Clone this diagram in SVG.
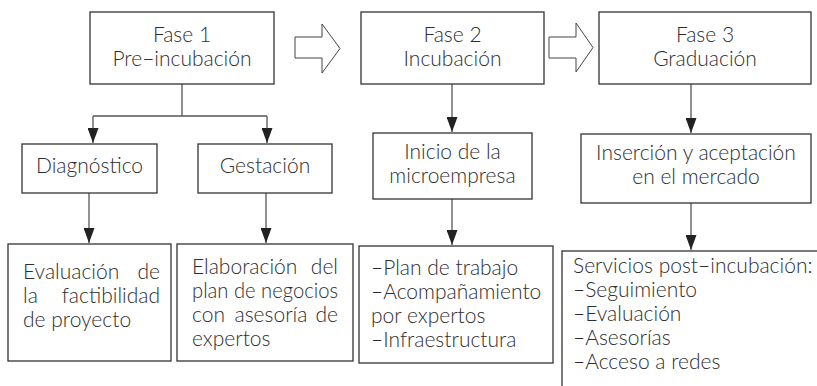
<svg xmlns="http://www.w3.org/2000/svg" width="817" height="386" viewBox="0 0 817 386">
<defs>
<style>
.box{fill:#fff;stroke:#333;stroke-width:1.3}
.con{fill:none;stroke:#555;stroke-width:1.3}
.big{fill:#fff;stroke:#444;stroke-width:1}
text{font-family:Lato,"Liberation Sans",sans-serif;font-weight:300;font-size:21px;fill:#2e2e2e}
.c{text-anchor:middle}
.e{text-anchor:end}
</style>
<marker id="ah" markerUnits="userSpaceOnUse" markerWidth="15" markerHeight="11" refX="15" refY="5.5" orient="auto">
<path d="M0,0 L15,5.5 L0,11 z" fill="#222"/>
</marker>
</defs>
<rect width="817" height="386" fill="#fff"/>
<g id="connectors">
<path class="con" d="M182,84 V116 M93,116 H267"/>
<path class="con" d="M93,116 V143" marker-end="url(#ah)"/>
<path class="con" d="M267,116 V143" marker-end="url(#ah)"/>
<path class="con" d="M89,193 V243" marker-end="url(#ah)"/>
<path class="con" d="M266,193 V243" marker-end="url(#ah)"/>
<path class="con" d="M452,84 V132" marker-end="url(#ah)"/>
<path class="con" d="M452,199 V245" marker-end="url(#ah)"/>
<path class="con" d="M691,84 V133" marker-end="url(#ah)"/>
<path class="con" d="M691,203 V250" marker-end="url(#ah)"/>
<polygon class="big" points="295,37 322,37 322,24 340,48.5 322,73 322,58 295,58"/>
<polygon class="big" points="549,37 576,37 576,23 593,47.5 576,72 576,58 549,58"/>
</g>
<g id="fase1">
<rect class="box" x="90" y="12" width="184" height="72"/>
<text class="c" x="182" y="42">Fase 1</text>
<text class="c" x="182" y="66">Pre–incubación</text>
</g>
<g id="fase2">
<rect class="box" x="361" y="12" width="183" height="72"/>
<text class="c" x="452.5" y="42">Fase 2</text>
<text class="c" x="452.5" y="66">Incubación</text>
</g>
<g id="fase3">
<rect class="box" x="599" y="12" width="212" height="72"/>
<text class="c" x="705" y="42">Fase 3</text>
<text class="c" x="705" y="66">Graduación</text>
</g>
<g id="diagnostico">
<rect class="box" x="22" y="144" width="135" height="49"/>
<text class="c" x="89.5" y="173">Diagnóstico</text>
</g>
<g id="gestacion">
<rect class="box" x="198" y="144" width="134" height="49"/>
<text class="c" x="265" y="173">Gestación</text>
</g>
<g id="inicio">
<rect class="box" x="373" y="133" width="159" height="66"/>
<text class="c" x="452.5" y="159">Inicio de la</text>
<text class="c" x="452.5" y="183">microempresa</text>
</g>
<g id="insercion">
<rect class="box" x="581" y="134" width="230" height="69"/>
<text class="c" x="696" y="160">Inserción y aceptación</text>
<text class="c" x="696" y="184">en el mercado</text>
</g>
<g id="evaluacion">
<rect class="box" x="8" y="244" width="163" height="117"/>
<text x="23" y="279">Evaluación</text>
<text class="e" x="160" y="279">de</text>
<text x="23" y="303">la</text>
<text class="e" x="160" y="303">factibilidad</text>
<text x="23" y="327">de proyecto</text>
</g>
<g id="elaboracion">
<rect class="box" x="177" y="244" width="176" height="117"/>
<text x="192" y="274">Elaboración</text>
<text class="e" x="338" y="274">del</text>
<text x="192" y="298" textLength="146" lengthAdjust="spacingAndGlyphs">plan de negocios</text>
<text x="192" y="322">con</text>
<text class="c" x="271" y="322">asesoría</text>
<text class="e" x="338" y="322">de</text>
<text x="192" y="346">expertos</text>
</g>
<g id="plan">
<rect class="box" x="359" y="246" width="194" height="117"/>
<text x="371" y="275">–Plan de trabajo</text>
<text x="371" y="299">–Acompañamiento</text>
<text x="371" y="323">por expertos</text>
<text x="371" y="347">–Infraestructura</text>
</g>
<g id="servicios">
<rect class="box" x="562" y="251" width="260" height="145"/>
<text x="573" y="273">Servicios post–incubación:</text>
<text x="573" y="297">–Seguimiento</text>
<text x="573" y="321">–Evaluación</text>
<text x="573" y="345">–Asesorías</text>
<text x="573" y="369">–Acceso a redes</text>
</g>
</svg>
